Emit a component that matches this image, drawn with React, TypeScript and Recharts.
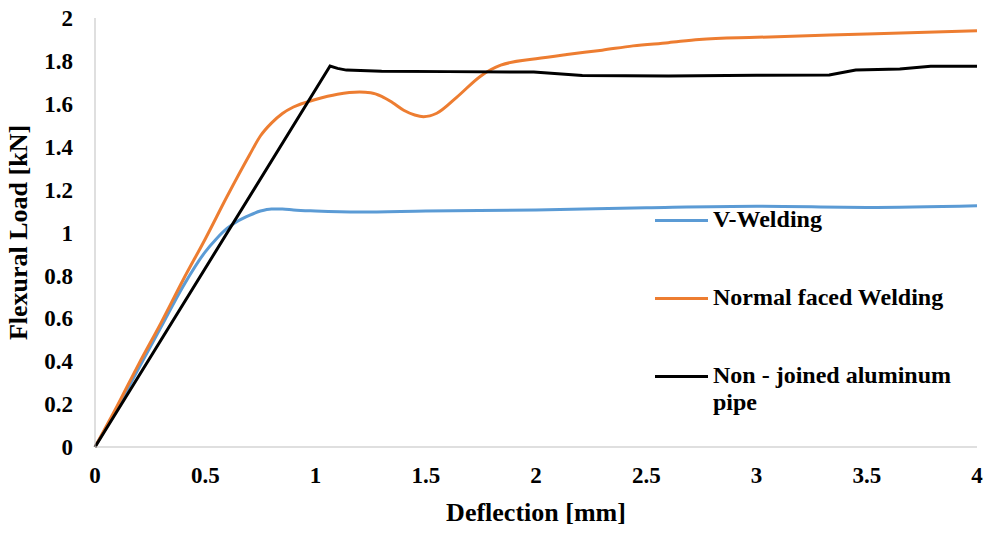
import { LineChart, Line, XAxis, YAxis } from 'recharts'

// deflection [mm] / load [kN] readings per specimen
const vWeldX = [0, 0.1, 0.2, 0.3, 0.4, 0.5, 0.55, 0.6, 0.65, 0.7, 0.75, 0.8, 0.85, 0.9, 1.0, 1.2, 1.5, 2.0, 2.5, 3.0, 3.5, 4.0]
const vWeldY = [0, 0.18, 0.37, 0.56, 0.75, 0.91, 0.97, 1.02, 1.055, 1.08, 1.1, 1.11, 1.11, 1.105, 1.1, 1.095, 1.1, 1.105, 1.115, 1.122, 1.117, 1.125]

const normalX = [0, 0.1, 0.2, 0.3, 0.4, 0.5, 0.6, 0.7, 0.75, 0.8, 0.85, 0.9, 1.0, 1.1, 1.2, 1.25, 1.3, 1.35, 1.4, 1.45, 1.49, 1.55, 1.64, 1.75, 1.84, 2.0, 2.14, 2.3, 2.44, 2.6, 2.74, 3.0, 3.5, 4.0]
const normalY = [0, 0.19, 0.39, 0.58, 0.78, 0.97, 1.17, 1.36, 1.45, 1.51, 1.555, 1.585, 1.62, 1.645, 1.655, 1.652, 1.635, 1.605, 1.57, 1.548, 1.54, 1.556, 1.63, 1.73, 1.78, 1.81, 1.83, 1.85, 1.87, 1.885, 1.9, 1.91, 1.925, 1.94]

const pipeX = [0, 1.066, 1.1, 1.14, 1.3, 1.6, 1.99, 2.21, 2.6, 3.0, 3.33, 3.45, 3.65, 3.79, 4.0]
const pipeY = [0, 1.776, 1.765, 1.757, 1.752, 1.75, 1.748, 1.732, 1.73, 1.733, 1.734, 1.758, 1.762, 1.775, 1.775]

const xTicks = [0, 0.5, 1, 1.5, 2, 2.5, 3, 3.5, 4]
const yTicks = [0, 0.2, 0.4, 0.6, 0.8, 1, 1.2, 1.4, 1.6, 1.8, 2]

const toPoints = (xs: number[], ys: number[]) => xs.map((x, i) => ({ x, y: ys[i] }))

const series = [
  { name: 'V-Welding', color: '#5B9BD5', data: toPoints(vWeldX, vWeldY), type: 'monotone' as const },
  { name: 'Normal faced Welding', color: '#ED7D31', data: toPoints(normalX, normalY), type: 'monotone' as const },
  { name: 'Non - joined aluminum pipe', color: '#000000', data: toPoints(pipeX, pipeY), type: 'linear' as const },
]

const font = '"Liberation Serif"'

// legend rows, drawn over the plot at the right
const legendRows = [
  { lines: ['V-Welding'], color: '#5B9BD5' },
  { lines: ['Normal faced Welding'], color: '#ED7D31' },
  { lines: ['Non - joined aluminum', 'pipe'], color: '#000000' },
]

function LegendBox() {
  return (
    <div
      style={{
        position: 'absolute',
        left: 655,
        top: 206,
        fontFamily: font,
        fontWeight: 700,
        fontSize: 24,
        color: '#000',
      }}
    >
      {legendRows.map((r) => (
        <div key={r.color} style={{ display: 'flex', alignItems: 'flex-start', height: 78 }}>
          <div style={{ width: 53, height: 3, background: r.color, marginTop: 13, marginRight: 5 }} />
          <div style={{ lineHeight: '27px' }}>
            {r.lines.map((l) => (
              <div key={l}>{l}</div>
            ))}
          </div>
        </div>
      ))}
    </div>
  )
}

export default function App() {
  const tickStyle = { fontFamily: font, fontWeight: 700, fill: '#000' }
  return (
    <div style={{ position: 'absolute', left: 0, top: 0, width: 990, height: 533, background: '#fff' }}>
      <LineChart width={990} height={533} margin={{ top: 18, right: 13, bottom: 12, left: 18 }}>
        <XAxis
          dataKey="x"
          type="number"
          domain={[0, 4]}
          ticks={xTicks}
          tickLine={false}
          stroke="#bfbfbf"
          tick={{ ...tickStyle, fontSize: 23 }}
          tickMargin={14}
          height={74}
          label={{ value: 'Deflection [mm]', position: 'insideBottom', offset: 0, style: { ...tickStyle, fontSize: 26 } }}
        />
        <YAxis
          type="number"
          domain={[0, 2]}
          ticks={yTicks}
          tickLine={false}
          stroke="#bfbfbf"
          tick={{ ...tickStyle, fontSize: 23 }}
          tickMargin={16}
          width={77}
          label={{ value: 'Flexural Load [kN]', angle: -90, position: 'insideLeft', offset: 0, style: { ...tickStyle, fontSize: 26, textAnchor: 'middle' } }}
        />
        {series.map((s) => (
          <Line
            key={s.name}
            data={s.data}
            dataKey="y"
            name={s.name}
            type={s.type}
            stroke={s.color}
            strokeWidth={3}
            dot={false}
            isAnimationActive={false}
          />
        ))}
      </LineChart>
      <LegendBox />
    </div>
  )
}
